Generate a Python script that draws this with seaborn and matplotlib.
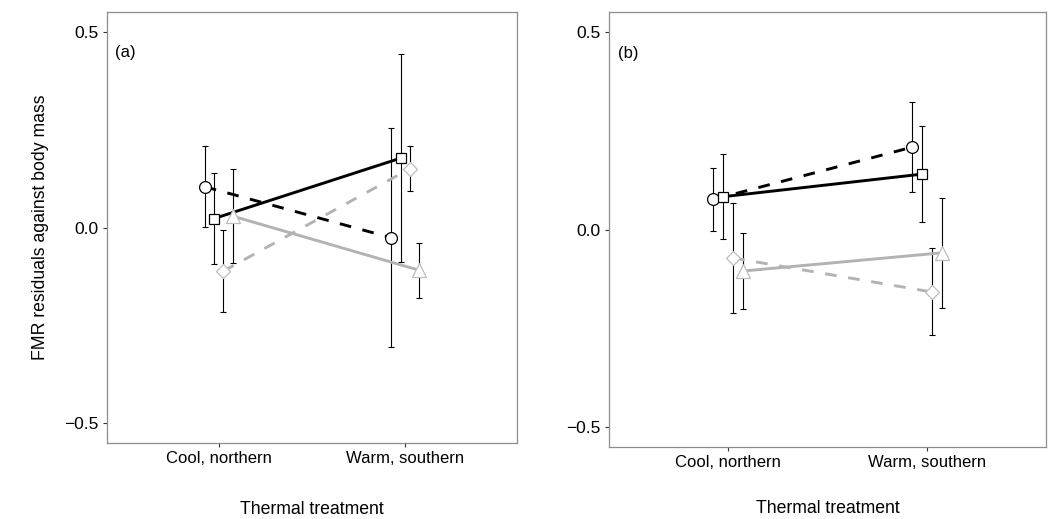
import numpy as np
import pandas as pd
import seaborn as sns
import matplotlib
import matplotlib.pyplot as plt

matplotlib.use('Agg')
sns.set_style("white")
plt.rcParams['font.family'] = ['Liberation Sans', 'DejaVu Sans']
plt.rcParams['text.color'] = 'black'
plt.rcParams['axes.labelcolor'] = 'black'
plt.rcParams['xtick.color'] = 'black'
plt.rcParams['ytick.color'] = 'black'

# -------------------------------Datos
tratamientos = ['Cool, northern', 'Warm, southern']
series = ['circle', 'square', 'diamond', 'triangle']

# Panel (a): medias y error estándar por serie (Cool, Warm)
media_a = {
    'circle':   [0.104, -0.026],
    'square':   [0.023, 0.177],
    'diamond':  [-0.111, 0.150],
    'triangle': [0.029, -0.109],
}
error_a = {
    'circle':   [0.103, 0.280],
    'square':   [0.116, 0.265],
    'diamond':  [0.104, 0.057],
    'triangle': [0.120, 0.070],
}

# Panel (b)
media_b = {
    'circle':   [0.076, 0.208],
    'square':   [0.083, 0.140],
    'diamond':  [-0.072, -0.158],
    'triangle': [-0.105, -0.059],
}
error_b = {
    'circle':   [0.080, 0.114],
    'square':   [0.107, 0.122],
    'diamond':  [0.140, 0.110],
    'triangle': [0.096, 0.139],
}

# Estilos de cada serie
gris = '#b3b3b3'
estilos = {
    'circle':   dict(color='black', ls=(0, (4, 4)), marker='o', mec='black', ms=8.5),
    'square':   dict(color='black', ls='-', marker='s', mec='black', ms=7.5),
    'diamond':  dict(color=gris, ls=(0, (4, 4)), marker='D', mec='#bdbdbd', ms=7.5),
    'triangle': dict(color=gris, ls='-', marker='^', mec='#bdbdbd', ms=10),
}
desplazamiento = {'circle': -0.075, 'square': -0.025, 'diamond': 0.025, 'triangle': 0.075}


def dibujar_panel(ax, medias, errores, etiqueta, pad_x):
    x_base = np.arange(1, len(tratamientos) + 1)
    for s in series:
        est = estilos[s]
        df = pd.DataFrame({'x': x_base + desplazamiento[s],
                           'y': medias[s],
                           'se': errores[s]})
        # Barras de error
        ax.errorbar(df['x'], df['y'], yerr=df['se'], fmt='none', ecolor='black',
                    elinewidth=0.8, capsize=2, capthick=0.8, zorder=1)
        # Líneas y marcadores
        sns.lineplot(data=df, x='x', y='y', ax=ax, color=est['color'], linestyle=est['ls'],
                     linewidth=2.1, marker=est['marker'], markersize=est['ms'],
                     markerfacecolor='white', markeredgecolor=est['mec'],
                     markeredgewidth=0.9, zorder=3, legend=False)

    ax.set_xlim(0.4, 2.6)
    ax.set_ylim(-0.55, 0.55)
    ax.set_xticks(x_base)
    ax.set_xticklabels(tratamientos, fontsize=12)
    ax.set_yticks([-0.5, 0.0, 0.5])
    ax.set_yticklabels(['\u22120.5', '0.0', '0.5'], fontsize=12.5)
    ax.tick_params(axis='both', which='major', length=3, width=0.8, color='#333333',
                   bottom=True, left=True, pad=3)
    for sp in ax.spines.values():
        sp.set_color('#8c8c8c')
        sp.set_linewidth(0.9)
    ax.set_xlabel('Thermal treatment', fontsize=12.7, labelpad=pad_x)
    ax.set_ylabel('')
    ax.text(0.02, 0.905, etiqueta, transform=ax.transAxes, fontsize=12, ha='left', va='center')


fig = plt.figure(figsize=(10.48, 5.19), dpi=100)
ax_a = fig.add_axes([0.1021, 0.1464, 0.3912, 0.8304])
ax_b = fig.add_axes([0.5811, 0.1387, 0.4170, 0.8382])

dibujar_panel(ax_a, media_a, error_a, '(a)', 25)
dibujar_panel(ax_b, media_b, error_b, '(b)', 21.5)

ax_a.set_ylabel('FMR residuals against body mass', fontsize=12.7, labelpad=11)

fig.savefig('out.png', dpi=100)
